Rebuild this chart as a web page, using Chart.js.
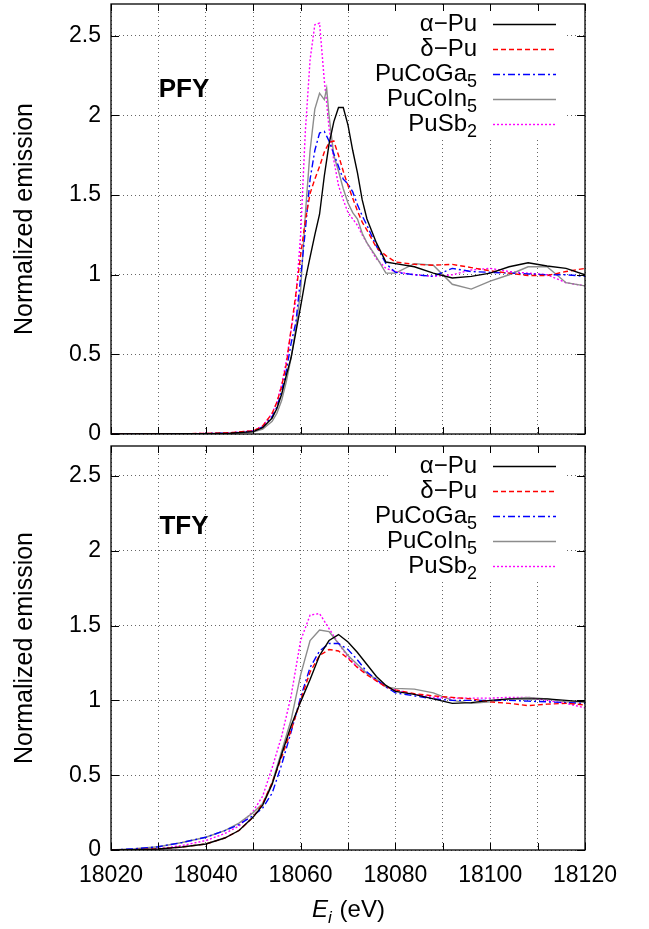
<!DOCTYPE html>
<html>
<head>
<meta charset="utf-8">
<script src="https://cdn.jsdelivr.net/npm/chart.js"></script>
<style>
html, body { margin: 0; padding: 0; background: #fff; }
#wrap { position: relative; width: 649px; height: 929px; }
canvas { position: absolute; left: 0; }
</style>
</head>
<body>
<div id="wrap">
  <canvas id="pfyChart" width="649" height="440" style="top:0px;width:649px;height:440px"></canvas>
  <canvas id="tfyChart" width="649" height="489" style="top:440px;width:649px;height:489px"></canvas>
</div>
<script>
// ---- data ----
var seriesNames  = ["α−Pu", "δ−Pu", "PuCoGa5", "PuCoIn5", "PuSb2"];
var xTicks       = [18020, 18030, 18040, 18050, 18060, 18070, 18080, 18090, 18100, 18110, 18120];
var yTicks       = [0, 0.5, 1, 1.5, 2, 2.5];

// PFY panel
var pfyEnergy = [18020, 18040, 18045, 18050, 18052, 18054, 18055, 18056, 18057, 18058,
                 18059, 18060, 18061, 18062, 18063, 18064, 18065, 18065.5, 18066, 18067,
                 18068, 18069, 18070, 18071, 18072, 18073, 18074, 18076, 18078, 18080,
                 18084, 18088, 18092, 18096, 18100, 18104, 18108, 18112, 18116, 18120];
var pfyAlpha = [0, 0.002, 0.005, 0.015, 0.04, 0.10, 0.16, 0.25, 0.37, 0.48,
                0.64, 0.80, 0.97, 1.11, 1.25, 1.38, 1.62, 1.72, 1.82, 1.96,
                2.05, 2.05, 1.94, 1.78, 1.64, 1.47, 1.35, 1.20, 1.08, 1.07,
                1.05, 1.01, 0.98, 0.99, 1.01, 1.05, 1.075, 1.055, 1.04, 1.00];
var pfyDelta = [0, 0.003, 0.008, 0.02, 0.05, 0.13, 0.20, 0.30, 0.44, 0.66,
                0.88, 1.12, 1.34, 1.51, 1.60, 1.68, 1.77, 1.80, 1.83, 1.84,
                1.75, 1.65, 1.56, 1.48, 1.40, 1.33, 1.28, 1.17, 1.12, 1.08,
                1.065, 1.06, 1.065, 1.045, 1.025, 1.01, 0.995, 0.995, 1.02, 1.04];
var pfyCoGa = [0, 0.002, 0.006, 0.018, 0.045, 0.11, 0.17, 0.27, 0.40, 0.57,
               0.70, 0.98, 1.28, 1.60, 1.78, 1.89, 1.90, 1.87, 1.84, 1.76,
               1.68, 1.60, 1.57, 1.52, 1.44, 1.37, 1.31, 1.18, 1.07, 1.015,
               1.00, 0.99, 1.04, 1.02, 1.015, 1.01, 1.005, 1.00, 1.00, 0.99];
var pfyCoIn = [0, 0.001, 0.004, 0.012, 0.03, 0.08, 0.13, 0.21, 0.33, 0.48,
               0.66, 0.90, 1.38, 1.78, 2.04, 2.14, 2.10, 2.17, 2.00, 1.75,
               1.65, 1.54, 1.45, 1.39, 1.35, 1.26, 1.20, 1.11, 1.01, 1.01,
               1.07, 1.06, 0.94, 0.91, 0.96, 1.00, 1.05, 1.05, 0.95, 0.93];
var pfySb2  = [0, 0.003, 0.008, 0.02, 0.05, 0.13, 0.20, 0.31, 0.46, 0.65,
               0.85, 1.25, 1.90, 2.35, 2.57, 2.58, 2.22, 2.08, 1.92, 1.72,
               1.56, 1.47, 1.39, 1.35, 1.31, 1.25, 1.20, 1.10, 1.04, 1.02,
               1.00, 0.99, 1.00, 1.03, 1.04, 1.02, 1.01, 1.00, 0.95, 0.93];

// TFY panel
var tfyEnergy = [18020, 18025, 18030, 18035, 18040, 18044, 18047, 18050, 18052, 18054,
                 18056, 18058, 18060, 18062, 18064, 18066, 18068, 18070, 18072, 18074,
                 18076, 18078, 18080, 18084, 18088, 18092, 18096, 18100, 18104, 18108,
                 18112, 18116, 18120];
var tfyAlpha = [0, 0.002, 0.007, 0.02, 0.04, 0.08, 0.13, 0.22, 0.30, 0.44,
                0.64, 0.83, 0.99, 1.14, 1.30, 1.40, 1.44, 1.39, 1.32, 1.24,
                1.16, 1.10, 1.06, 1.04, 1.01, 0.98, 0.985, 1.00, 1.01, 1.01,
                1.01, 1.00, 0.99];
var tfyDelta = [0, 0.002, 0.007, 0.02, 0.04, 0.08, 0.13, 0.22, 0.31, 0.45,
                0.62, 0.80, 1.00, 1.19, 1.30, 1.34, 1.33, 1.28, 1.22, 1.17,
                1.13, 1.09, 1.07, 1.045, 1.03, 1.02, 1.01, 0.99, 0.98, 0.965,
                0.975, 0.98, 0.97];
var tfyCoGa = [0, 0.008, 0.022, 0.05, 0.085, 0.13, 0.17, 0.23, 0.28, 0.38,
               0.57, 0.79, 1.02, 1.22, 1.33, 1.38, 1.38, 1.34, 1.27, 1.19,
               1.14, 1.09, 1.05, 1.03, 1.01, 1.00, 1.00, 1.00, 1.00, 0.995,
               0.99, 0.985, 0.98];
var tfyCoIn = [0, 0.008, 0.022, 0.05, 0.085, 0.13, 0.18, 0.25, 0.31, 0.45,
               0.66, 0.87, 1.17, 1.40, 1.47, 1.46, 1.38, 1.30, 1.24, 1.18,
               1.14, 1.09, 1.08, 1.075, 1.05, 1.00, 0.98, 0.99, 1.01, 1.02,
               1.01, 0.99, 0.99];
var tfySb2  = [0, 0.002, 0.008, 0.03, 0.063, 0.11, 0.16, 0.26, 0.36, 0.55,
               0.76, 1.03, 1.40, 1.57, 1.58, 1.48, 1.38, 1.29, 1.22, 1.18,
               1.13, 1.09, 1.07, 1.04, 1.02, 1.015, 1.015, 1.015, 1.02, 1.02,
               1.00, 0.98, 0.95];

// ---- styles ----
var seriesColors = ["#000000", "#ff0000", "#0000ff", "#8c8c8c", "#ff00ff"];
var seriesDash   = [[], [5, 3], [7, 3, 2, 3], [], [2, 2]];
var fontFamily   = "'Liberation Sans', Arial, Helvetica, sans-serif";

Chart.defaults.font.family = fontFamily;
Chart.defaults.font.size   = 23;
Chart.defaults.color       = "#000";

var PLOT_RIGHT = 585;

/*
* gnuplot look: frame with inward tics, white key box, key, panel tag
*/
var gnuplotFrame = {
    id: "gnuplotFrame",
    beforeDatasetsDraw: function(chart) {
        var a = chart.chartArea, ctx = chart.ctx;
        ctx.save();
        ctx.fillStyle = "#fff";
        ctx.fillRect(a.right - 194, a.top + 1, 176, 133);
        ctx.restore();
        },
    afterDatasetsDraw: function(chart, args, opts) {
        var a = chart.chartArea, ctx = chart.ctx;
        var xs = chart.scales.x, ys = chart.scales.y;
        ctx.save();

        // frame
        ctx.strokeStyle = "#000";
        ctx.lineWidth   = 1.3;
        ctx.setLineDash([]);
        ctx.strokeRect(a.left, a.top, a.right - a.left, a.bottom - a.top);

        // inward tics on all sides
        ctx.lineWidth = 1;
        ctx.beginPath();
        xTicks.forEach(function(v) {
            var px = Math.round(xs.getPixelForValue(v)) + 0.5;
            ctx.moveTo(px, a.bottom); ctx.lineTo(px, a.bottom - 7);
            ctx.moveTo(px, a.top);    ctx.lineTo(px, a.top + 7);
            });
        yTicks.forEach(function(v) {
            var py = Math.round(ys.getPixelForValue(v)) + 0.5;
            ctx.moveTo(a.left, py);  ctx.lineTo(a.left + 8, py);
            ctx.moveTo(a.right, py); ctx.lineTo(a.right - 8, py);
            });
        ctx.stroke();

        // key
        chart.data.datasets.forEach(function(ds, i) {
            var y = a.top + 20 + 25 * i;
            var m = ds.label.match(/^(.*?)(\d*)$/);
            ctx.fillStyle    = "#000";
            ctx.textBaseline = "middle";
            ctx.textAlign    = "left";
            ctx.font = "24px " + fontFamily;
            var wBase = ctx.measureText(m[1]).width;
            ctx.font = "18px " + fontFamily;
            var wSub = m[2] ? ctx.measureText(m[2]).width : 0;
            var xEnd = a.right - 108;
            ctx.font = "24px " + fontFamily;
            ctx.fillText(m[1], xEnd - wSub - wBase, y);
            if (m[2]) {
                ctx.font = "18px " + fontFamily;
                ctx.fillText(m[2], xEnd - wSub, y + 8);
                }
            ctx.strokeStyle = ds.borderColor;
            ctx.lineWidth   = ds.borderWidth;
            ctx.setLineDash(ds.borderDash);
            ctx.beginPath();
            ctx.moveTo(a.right - 92, y + 0.5);
            ctx.lineTo(a.right - 29, y + 0.5);
            ctx.stroke();
            });
        ctx.setLineDash([]);

        // panel tag
        ctx.fillStyle    = "#000";
        ctx.font         = "bold 26px " + fontFamily;
        ctx.textAlign    = "center";
        ctx.textBaseline = "middle";
        ctx.fillText(opts.tag, a.left + 73, a.top + opts.tagY);

        // x axis title with italic E and subscript i
        if (opts.xTitle) {
            var cx = (a.left + a.right) / 2, cy = chart.height - 19;
            ctx.textAlign = "left";
            ctx.font = "italic 24px " + fontFamily;
            var wE = ctx.measureText("E").width;
            ctx.font = "italic 17px " + fontFamily;
            var wI = ctx.measureText("i").width;
            ctx.font = "24px " + fontFamily;
            var wR = ctx.measureText(" (eV)").width;
            var x0 = cx - (wE + wI + wR) / 2;
            ctx.font = "italic 24px " + fontFamily;
            ctx.fillText("E", x0, cy);
            ctx.font = "italic 17px " + fontFamily;
            ctx.fillText("i", x0 + wE, cy + 8);
            ctx.font = "24px " + fontFamily;
            ctx.fillText(" (eV)", x0 + wE + wI + 1, cy);
            }
        ctx.restore();
        }
    };

function panel_create(id, energies, values, tag, tagY, padTop, xHeight, showX) {
    var datasets = [];
    for (var i = 0; i < seriesNames.length; i++) {
        var pts = [];
        for (var k = 0; k < energies.length; k++) { pts.push({x: energies[k], y: values[i][k]}); }
        datasets.push({
            label       : seriesNames[i],
            data        : pts,
            borderColor : seriesColors[i],
            borderDash  : seriesDash[i],
            borderWidth : 1.4,
            pointRadius : 0,
            tension     : 0,
            fill        : false
            });
        }

    return new Chart(document.getElementById(id), {
        type    : "line",
        data    : {datasets: datasets},
        plugins : [gnuplotFrame],
        options : {
            responsive : false,
            animation  : false,
            layout     : {padding: {top: padTop, right: 649 - PLOT_RIGHT, left: 0, bottom: 0}},
            plugins    : {
                legend       : {display: false},
                tooltip      : {enabled: false},
                gnuplotFrame : {tag: tag, tagY: tagY, xTitle: showX}
                },
            scales : {
                x : {
                    type : "linear", min: 18020, max: 18120,
                    afterBuildTicks : function(s) { s.ticks = xTicks.map(function(v) { return {value: v}; }); },
                    afterFit        : function(s) { s.height = xHeight; s.paddingLeft = 0; s.paddingRight = 0; },
                    grid   : {color: "#666", lineWidth: 1, drawTicks: false},
                    border : {display: false, dash: [1, 3]},
                    ticks  : {
                        display: showX, padding: 12, autoSkip: false, maxRotation: 0,
                        callback: function(v) { return v % 20 === 0 ? String(v) : ""; }
                        }
                    },
                y : {
                    min: 0, max: 2.7,
                    afterBuildTicks : function(s) { s.ticks = yTicks.map(function(v) { return {value: v}; }); },
                    afterFit        : function(s) { s.width = 111; s.paddingTop = 0; s.paddingBottom = 0; },
                    grid   : {color: "#666", lineWidth: 1, drawTicks: false},
                    border : {display: false, dash: [1, 3]},
                    ticks  : {padding: 10, callback: function(v) { return String(v); }},
                    title  : {display: true, text: "Normalized emission", font: {size: 25}, padding: {top: 10, bottom: 0}}
                    }
                }
            }
        });
    }

panel_create("pfyChart", pfyEnergy, [pfyAlpha, pfyDelta, pfyCoGa, pfyCoIn, pfySb2], "PFY", 86, 4, 6, false);
panel_create("tfyChart", tfyEnergy, [tfyAlpha, tfyDelta, tfyCoGa, tfyCoIn, tfySb2], "TFY", 81, 6, 79, true);
</script>
</body>
</html>
